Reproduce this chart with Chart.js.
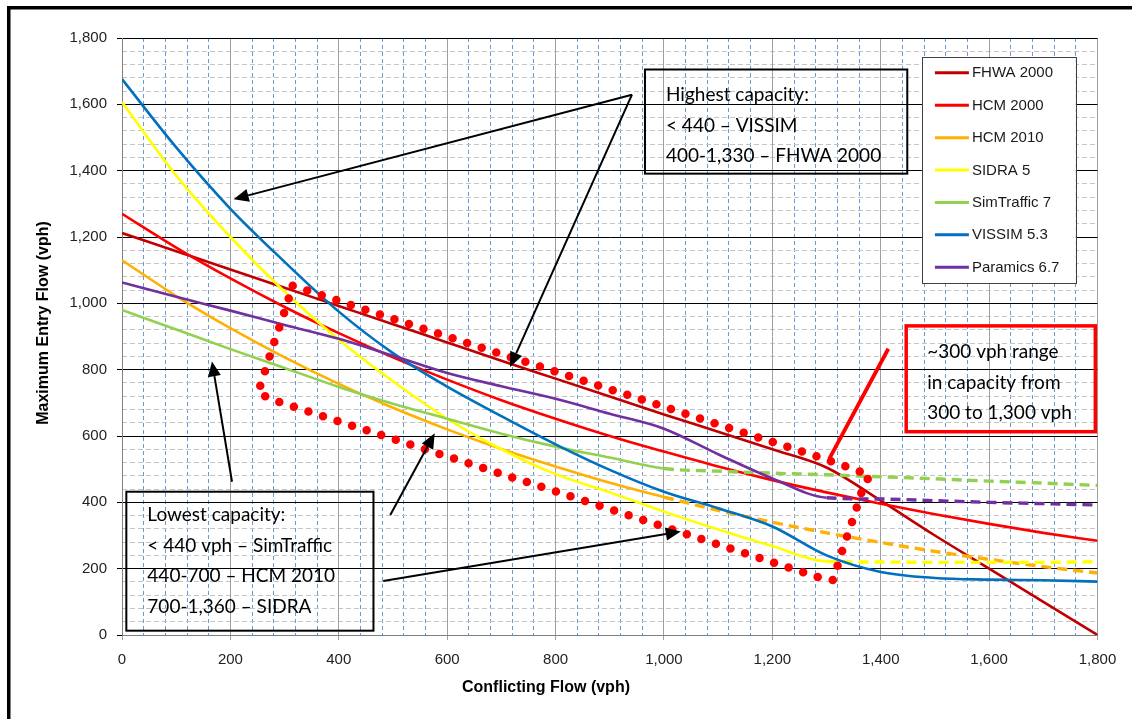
<!DOCTYPE html>
<html><head><meta charset="utf-8">
<script src="https://cdn.jsdelivr.net/npm/chart.js@4.4.1/dist/chart.umd.min.js"></script>
<style>html,body{margin:0;padding:0;background:#fff;}canvas{display:block;}</style>
</head><body>
<canvas id="c" width="1132" height="719"></canvas>
<script>
// ---- data ----
const conflictingFlow = [0,100,200,300,400,500,600,700,800,900,1000,1100,1200,1300,1400,1500,1600,1700,1800];
const fhwa2000    = [1212,1157,1102,1047,992,937,882,827,773,719,665,613,560,505,405,300,200,100,0];
const hcm2000     = [1270,1168,1075,989,910,837,770,708,652,600,553,508,467,430,396,364,335,308,284];
const hcm2010     = [1130,1022,925,837,757,685,620,561,508,459,416,376,340,308,279,252,228,206,187];
const sidra5      = [1607,1385,1200,1035,890,765,652,560,485,430,372,318,268,222,220,219,219,219,221];
const simTraffic7 = [980,921,862,805,748,697,652,607,568,535,502,494,488,483,477,471,464,458,451];
const vissim53    = [1676,1470,1285,1125,975,850,749,660,575,498,432,382,327,240,190,172,167,165,161];
const paramics67  = [1063,1020,978,935,893,842,790,750,712,667,622,545,472,414,410,405,400,396,392];

const seriesNames  = ['FHWA 2000','HCM 2000','HCM 2010','SIDRA 5','SimTraffic 7','VISSIM 5.3','Paramics 6.7'];
const seriesValues = [fhwa2000, hcm2000, hcm2010, sidra5, simTraffic7, vissim53, paramics67];
const seriesColors = ['#C00000','#FF0000','#FFB000','#FFFF00','#92D050','#0070C0','#7030A0'];
const solidUntil   = [null, null, 1000, 1300, 1000, null, 1300];

// dotted outline (conflicting flow, entry flow)
const loopX = [315,590,842,1181,1293,1380,1367,1349,1330,1312,1285,836,387,274,251,260,278,297,315];
const loopY = [1053,905,772,592,533,482,443,350,259,166,174,414,651,711,731,776,869,960,1053];

// arrows (data coordinates): from -> to
const arrowFromX = [941,941,203,495,482];
const arrowFromY = [1629,1629,462,362,163];
const arrowToX   = [206,716,166,577,1031];
const arrowToY   = [1314,808,825,608,312];
const redLine = {x1:1305, y1:531, x2:1414, y2:863};

const boxHigh = {x1:965, y1:1705, x2:1449, y2:1391, lines:['Highest capacity:','< 440 \u2013 VISSIM','400-1,330 \u2013 FHWA 2000']};
const boxLow  = {x1:8, y1:432, x2:464, y2:13, lines:['Lowest capacity:','< 440 vph \u2013 SimTraffic','440-700 \u2013 HCM 2010','700-1,360 \u2013 SIDRA']};
const boxRange= {x1:1447, y1:932, x2:1796, y2:613, lines:['~300 vph range','in capacity from','300 to 1,300 vph']};
const legendBox = {x1:1476, y1:1742, x2:1760, y2:1060};

const xTitle = 'Conflicting Flow (vph)';
const yTitle = 'Maximum Entry Flow (vph)';
const axisMin = 0, axisMax = 1800, majorStep = 200, minorStep = 40;

// ---- datasets ----
const datasets = seriesNames.map((name, i) => ({
  label: name,
  data: conflictingFlow.map((x, k) => ({x: x, y: seriesValues[i][k]})),
  borderColor: seriesColors[i],
  backgroundColor: seriesColors[i],
  borderWidth: 2.6,
  pointRadius: 0,
  cubicInterpolationMode: 'monotone',
  fill: false,
  order: 10 - i,
  segment: {
    borderDash: ctx => (solidUntil[i] !== null && ctx.p0.parsed.x >= solidUntil[i]) ? [10, 6] : undefined,
    borderWidth: ctx => (solidUntil[i] !== null && ctx.p0.parsed.x >= solidUntil[i]) ? 3.4 : undefined
  }
}));
datasets.push({
  label: '',
  data: loopX.map((x, k) => ({x: x, y: loopY[k]})),
  borderColor: '#FF0000',
  borderWidth: 8.5,
  borderDash: [0, 15.3],
  borderCapStyle: 'round',
  pointRadius: 0,
  tension: 0,
  fill: false,
  order: -10
});

const fmt = v => v.toLocaleString('en-US');

const annot = {
  id: 'annot',
  beforeDraw(chart) {
    const c = chart.ctx;
    c.save(); c.fillStyle = '#fff'; c.fillRect(0, 0, chart.width, chart.height); c.restore();
  },
  afterDatasetsDraw(chart) {
    const c = chart.ctx, xs = chart.scales.x, ys = chart.scales.y;
    const px = v => xs.getPixelForValue(v), py = v => ys.getPixelForValue(v);
    c.save();
    // arrows
    c.strokeStyle = '#000'; c.fillStyle = '#000'; c.lineWidth = 2;
    for (let i = 0; i < arrowFromX.length; i++) {
      const x1 = px(arrowFromX[i]), y1 = py(arrowFromY[i]), x2 = px(arrowToX[i]), y2 = py(arrowToY[i]);
      const ang = Math.atan2(y2 - y1, x2 - x1), len = 15, w = 6.5;
      const bx = x2 - len * Math.cos(ang), by = y2 - len * Math.sin(ang);
      c.beginPath(); c.moveTo(x1, y1); c.lineTo(bx, by); c.stroke();
      c.beginPath(); c.moveTo(x2, y2);
      c.lineTo(bx + w * Math.sin(ang), by - w * Math.cos(ang));
      c.lineTo(bx - w * Math.sin(ang), by + w * Math.cos(ang));
      c.closePath(); c.fill();
    }
    // red pointer line
    c.strokeStyle = '#FF0000'; c.lineWidth = 3.8;
    c.beginPath(); c.moveTo(px(redLine.x1), py(redLine.y1)); c.lineTo(px(redLine.x2), py(redLine.y2)); c.stroke();

    // text boxes
    const drawBox = (b, color, lw, offs) => {
      const l = px(b.x1), t = py(b.y1), r = px(b.x2), bt = py(b.y2);
      c.strokeStyle = color; c.lineWidth = lw;
      c.strokeRect(l, t, r - l, bt - t);
      c.fillStyle = '#000'; c.font = '19px Lato'; c.textBaseline = 'middle'; c.textAlign = 'left';
      b.lines.forEach((s, k) => c.fillText(s, l + 21, t + offs + k * 30.5));
    };
    drawBox(boxHigh, '#000', 2, 25.5);
    drawBox(boxLow, '#000', 2, 23.5);
    drawBox(boxRange, '#FF0000', 3.5, 26);

    // legend
    const ll = px(legendBox.x1), lt = py(legendBox.y1), lr = px(legendBox.x2), lb = py(legendBox.y2);
    c.fillStyle = '#fff'; c.fillRect(ll, lt, lr - ll, lb - lt);
    c.strokeStyle = '#404040'; c.lineWidth = 1; c.strokeRect(Math.round(ll) + 0.5, Math.round(lt) + 0.5, Math.round(lr - ll), Math.round(lb - lt));
    c.font = '15px "Liberation Sans"'; c.textBaseline = 'middle';
    seriesNames.forEach((n, k) => {
      const yy = lt + 15.6 + k * 32.4;
      c.strokeStyle = seriesColors[k]; c.lineWidth = 3;
      c.beginPath(); c.moveTo(ll + 13, yy); c.lineTo(ll + 47, yy); c.stroke();
      c.fillStyle = '#1a1a1a'; c.fillText(n, ll + 50, yy + 0.5);
    });
    c.restore();
  },
  afterDraw(chart) {
    const c = chart.ctx;
    c.save();
    // outer frame (top and left edges)
    c.fillStyle = '#000';
    c.fillRect(7, 6, chart.width - 7, 3.5);
    c.fillRect(7, 6, 3.5, chart.height - 6);
    // axis titles
    c.font = 'bold 16px "Liberation Sans"'; c.fillStyle = '#000';
    c.textAlign = 'center'; c.textBaseline = 'middle';
    c.fillText(xTitle, 546, 688);
    c.translate(44, 323); c.rotate(-Math.PI / 2);
    c.fillText(yTitle, 0, 0);
    c.restore();
  }
};

const tickFont = {family: '"Liberation Sans"', size: 15};

new Chart(document.getElementById('c'), {
  type: 'line',
  data: {datasets},
  options: {
    responsive: false, animation: false, devicePixelRatio: 1,
    layout: {padding: {top: 38, right: 34.5, bottom: 0, left: 0}},
    plugins: {legend: {display: false}, tooltip: {enabled: false}},
    scales: {
      xm: {
        type: 'linear', axis: 'x', position: 'bottom', min: axisMin, max: axisMax,
        ticks: {display: false, stepSize: minorStep},
        grid: {color: ctx => (ctx.tick && ctx.tick.value % majorStep === 0) ? 'rgba(0,0,0,0)' : '#6A9AD4', lineWidth: 1, drawTicks: false, z: -2},
        border: {display: false, dash: [4, 3]},
        afterFit: s => { s.height = 0; }
      },
      ym: {
        type: 'linear', axis: 'y', position: 'left', min: axisMin, max: axisMax,
        ticks: {display: false, stepSize: minorStep},
        grid: {color: ctx => (ctx.tick && ctx.tick.value % majorStep === 0) ? 'rgba(0,0,0,0)' : '#C4C4C4', lineWidth: 1, drawTicks: false, z: -2},
        border: {display: false, dash: [5, 3]},
        afterFit: s => { s.width = 0; }
      },
      x: {
        type: 'linear', position: 'bottom', min: axisMin, max: axisMax,
        ticks: {stepSize: majorStep, callback: fmt, font: tickFont, color: '#222', padding: 11, maxRotation: 0},
        grid: {color: '#A0A0A0', lineWidth: 1, tickLength: 5, z: -1},
        border: {display: true, color: '#808080', width: 1},
        afterFit: s => { s.height = 84; }
      },
      y: {
        type: 'linear', position: 'left', min: axisMin, max: axisMax,
        ticks: {stepSize: majorStep, callback: fmt, font: tickFont, color: '#222', padding: 10},
        grid: {color: '#000', lineWidth: 1, tickLength: 5, z: -1},
        border: {display: true, color: '#808080', width: 1},
        afterFit: s => { s.width = 122; }
      }
    }
  },
  plugins: [annot]
});
</script>
</body></html>
